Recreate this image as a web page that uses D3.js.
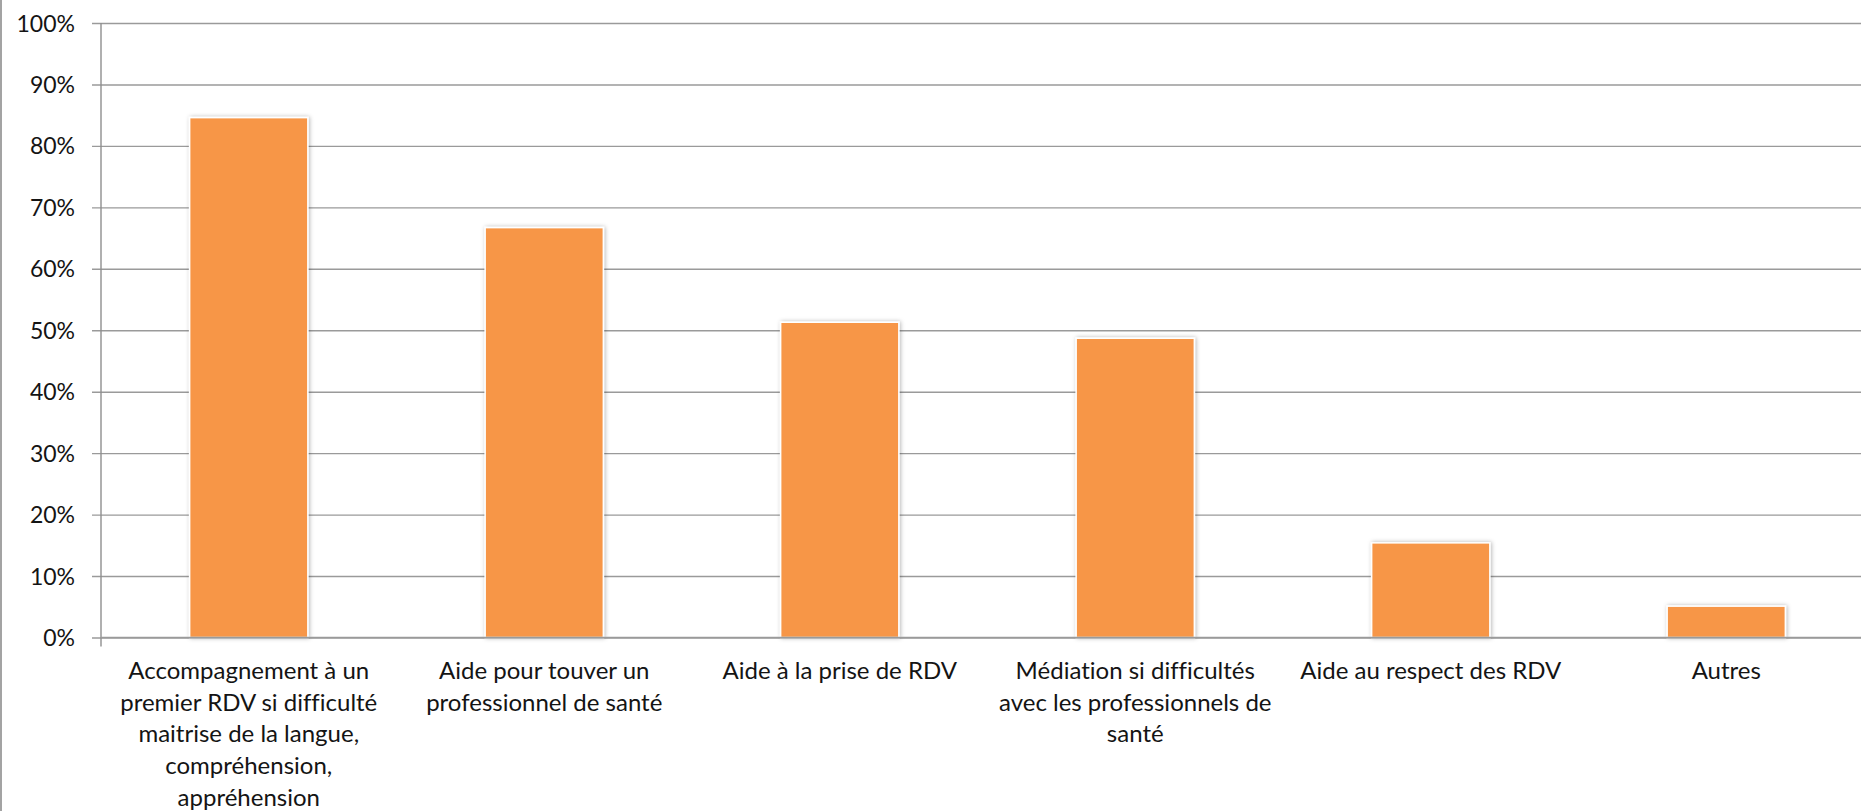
<!DOCTYPE html>
<html>
<head>
<meta charset="utf-8">
<script src="https://cdn.jsdelivr.net/npm/d3@7"></script>
<style>
    body { margin: 0; background: #fff; overflow: hidden; }
    svg { display: block; font-family: Lato, 'Noto Sans', sans-serif; font-variant-ligatures: none; }
    .tick-label { fill: #141414; font-size: 23px; }
    .cat-label { fill: #141414; font-size: 24px; }
</style>
</head>
<body>
<svg></svg>
<script>
//Chart data (share of answers per kind of help)
const categories = [
    'Accompagnement à un\npremier RDV si difficulté\nmaitrise de la langue,\ncompréhension,\nappréhension',
    'Aide pour touver un\nprofessionnel de santé',
    'Aide à la prise de RDV',
    'Médiation si difficultés\navec les professionnels de\nsanté',
    'Aide au respect des RDV',
    'Autres'
];
const values = [0.846, 0.667, 0.513, 0.487, 0.154, 0.051];
const yTicks = [0, 0.1, 0.2, 0.3, 0.4, 0.5, 0.6, 0.7, 0.8, 0.9, 1];

const width = 1861;
const height = 811;
const plotLeft = 101;
const plotRight = 1874;   //plot goes a bit past the picture edge, like the original
const plotTop = 23;
const plotBottom = 637.5;

const svg = d3.select('svg').attr('width', width).attr('height', height);

const xScale = d3.scaleBand()
    .domain(categories)
    .range([plotLeft, plotRight])
    .paddingInner(0.6)
    .paddingOuter(0.3);

const yScale = d3.scaleLinear()
    .domain([0, 1])
    .range([plotBottom, plotTop]);

//soft shadow round the bars
const defs = svg.append('defs');
defs.append('filter')
    .attr('id', 'barShadow')
    .attr('x', '-20%').attr('y', '-20%')
    .attr('width', '140%').attr('height', '140%')
    .append('feDropShadow')
    .attr('dx', 1).attr('dy', 0)
    .attr('stdDeviation', 2.2)
    .attr('flood-color', '#000')
    .attr('flood-opacity', 0.3);

//left frame of the chart
svg.append('line')
    .attr('x1', 1).attr('x2', 1)
    .attr('y1', 0).attr('y2', height)
    .attr('stroke', '#a3a3a3')
    .attr('stroke-width', 2);

//y axis with gridlines
const yAxis = d3.axisLeft(yScale)
    .tickValues(yTicks)
    .tickFormat(d3.format('.0%'))
    .tickSize(-(width - plotLeft))
    .tickPadding(26);

const yAxisGroup = svg.append('g')
    .attr('transform', `translate(${plotLeft}, 0)`)
    .call(yAxis);

yAxisGroup.select('.domain').remove();
yAxisGroup.selectAll('.tick line')
    .attr('x1', -9)
    .attr('stroke', '#9a9a9a')
    .attr('stroke-width', 1.4);
yAxisGroup.selectAll('.tick text')
    .attr('class', 'tick-label')
    .attr('dy', '0.35em');
yAxisGroup.attr('font-size', null).attr('font-family', null);

//vertical axis line, runs a little under 0%
svg.append('line')
    .attr('x1', plotLeft).attr('x2', plotLeft)
    .attr('y1', plotTop).attr('y2', plotBottom + 9)
    .attr('stroke', '#8f8f8f')
    .attr('stroke-width', 1.4);

//bars
svg.append('g')
    .selectAll('rect')
    .data(values)
    .enter().append('rect')
    .attr('x', (_d, i) => xScale(categories[i]))
    .attr('y', d => yScale(d))
    .attr('width', xScale.bandwidth())
    .attr('height', d => yScale(0) - yScale(d))
    .attr('fill', '#f79646')
    .attr('stroke', '#fff')
    .attr('stroke-width', 1.5)
    .attr('filter', 'url(#barShadow)');

//x axis line drawn on top of the bar bottoms
svg.append('line')
    .attr('x1', plotLeft).attr('x2', width)
    .attr('y1', plotBottom).attr('y2', plotBottom)
    .attr('stroke', '#9a9a9a')
    .attr('stroke-width', 1.4);

//category labels, one tspan for each line
const catGroups = svg.append('g')
    .selectAll('text')
    .data(categories)
    .enter().append('text')
    .attr('class', 'cat-label')
    .attr('text-anchor', 'middle')
    .attr('x', d => xScale(d) + xScale.bandwidth() / 2)
    .attr('y', 679);

catGroups.selectAll('tspan')
    .data(d => d.split('\n').map(line => ({ line, x: xScale(d) + xScale.bandwidth() / 2 })))
    .enter().append('tspan')
    .attr('x', d => d.x)
    .attr('dy', (_d, i) => i === 0 ? 0 : 31.7)
    .text(d => d.line);
</script>
</body>
</html>
